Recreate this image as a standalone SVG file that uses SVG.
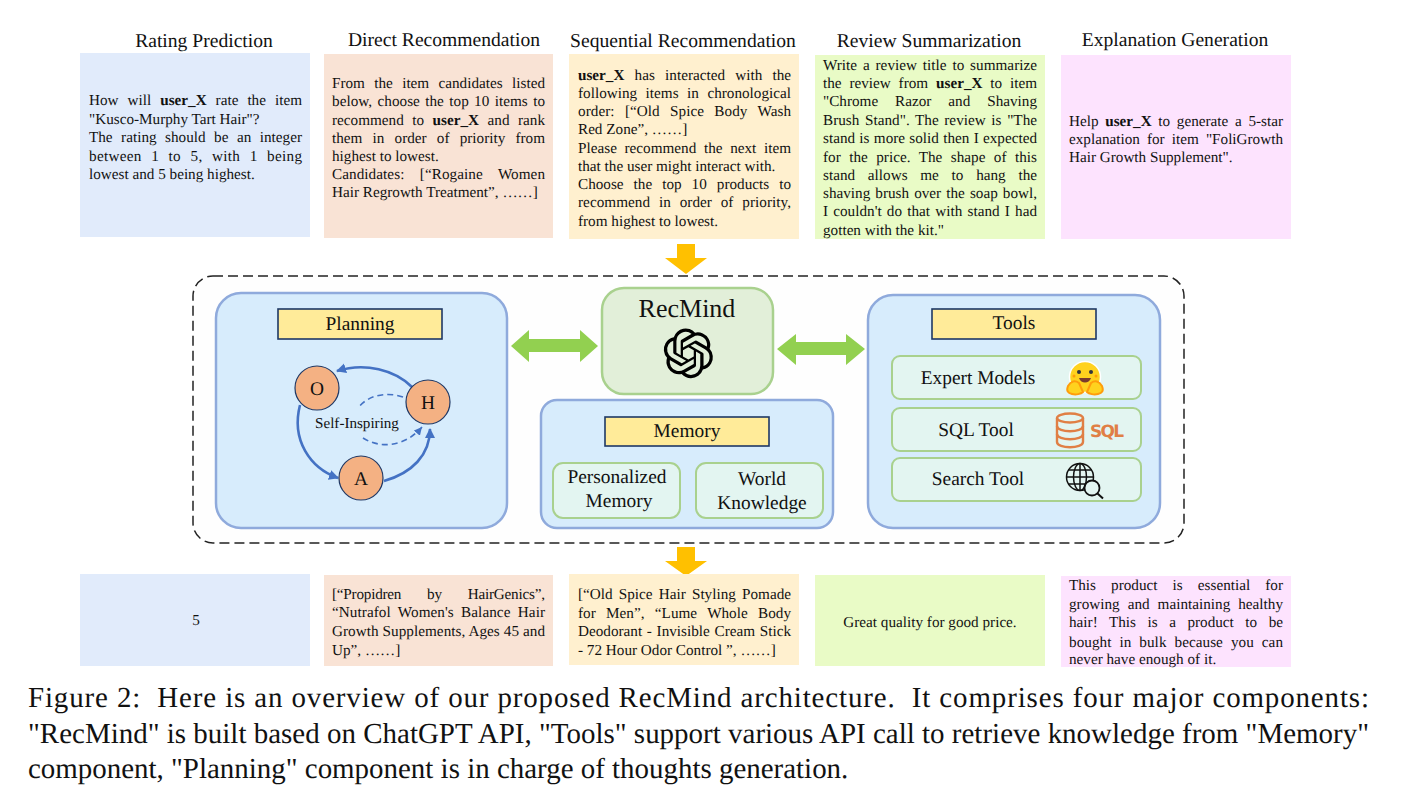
<svg xmlns="http://www.w3.org/2000/svg" width="1401" height="809" viewBox="0 0 1401 809">
<style>
text{font-family:"Liberation Serif","Times New Roman",serif;fill:#111;text-rendering:geometricPrecision}
.t{font-size:15.2px}
.h{font-size:19.6px;text-anchor:middle}
.c{font-size:15.2px;text-anchor:middle}
.m{font-size:19.4px;text-anchor:middle}
.cap{font-size:28.95px;fill:#111}
.b{font-weight:bold}
.panel{fill:#d7ecfc;stroke:#8faadc;stroke-width:2.5}
.label{fill:#ffeb99;stroke:#1f3864;stroke-width:1.6}
.sub{fill:#e3f5f1;stroke:#a9d18e;stroke-width:2}
.node{fill:#f4b183;stroke:#203864;stroke-width:1.2}
.flow{fill:none;stroke:#4472c4;stroke-width:2.6}
.dash{fill:none;stroke:#4472c4;stroke-width:1.6;stroke-dasharray:6 4}
.go{fill:#ffc000}
.dbl{fill:#92d050}
</style>
<defs>
<marker id="ah" markerUnits="userSpaceOnUse" markerWidth="12" markerHeight="12" refX="9" refY="5" orient="auto"><path d="M0 0L10 5L0 10Z" fill="#4472c4"/></marker>
<marker id="ahs" markerUnits="userSpaceOnUse" markerWidth="10" markerHeight="10" refX="8" refY="4" orient="auto"><path d="M0 0L8 4L0 8Z" fill="#4472c4"/></marker>
</defs>
<rect width="1401" height="809" fill="#fff"/>

<g id="prompt-rating">
<text class="h" x="204" y="47">Rating Prediction</text>
<rect x="80" y="53" width="230" height="184" fill="#e1ebfb"/>
<text class="t" x="89" y="105" word-spacing="5.2" textLength="213">How will <tspan class="b">user_X</tspan> rate the item</text>
<text class="t" x="89" y="123.500">"Kusco-Murphy Tart Hair"?</text>
<text class="t" x="89" y="142" word-spacing="4.7" textLength="213">The rating should be an integer</text>
<text class="t" x="89" y="160.500" word-spacing="5.4" textLength="213">between 1 to 5, with 1 being</text>
<text class="t" x="89" y="179">lowest and 5 being highest.</text>
</g>
<g id="prompt-direct">
<text class="h" x="444" y="46">Direct Recommendation</text>
<rect x="324" y="54" width="229" height="184" fill="#f9e3d5"/>
<text class="t" x="332" y="88" word-spacing="5.5" textLength="213">From the item candidates listed</text>
<text class="t" x="332" y="106" word-spacing="1.5" textLength="213">below, choose the top 10 items to</text>
<text class="t" x="332" y="124.500" word-spacing="4.7" textLength="213">recommend to <tspan class="b">user_X</tspan> and rank</text>
<text class="t" x="332" y="142.500" word-spacing="6.4" textLength="213">them in order of priority from</text>
<text class="t" x="332" y="161">highest to lowest.</text>
<text class="t" x="332" y="179" word-spacing="11.5" textLength="213">Candidates: [“Rogaine Women</text>
<text class="t" x="332" y="197">Hair Regrowth Treatment”, ……]</text>
</g>
<g id="prompt-sequential">
<text class="h" x="683" y="47">Sequential Recommendation</text>
<rect x="569" y="54" width="230" height="185" fill="#fff0cf"/>
<text class="t" x="578" y="80" word-spacing="6.4" textLength="213"><tspan class="b">user_X</tspan> has interacted with the</text>
<text class="t" x="578" y="97.500" word-spacing="4.7" textLength="213">following items in chronological</text>
<text class="t" x="578" y="115.500" word-spacing="6.4" textLength="213">order: [“Old Spice Body Wash</text>
<text class="t" x="578" y="134">Red Zone”, ……]</text>
<text class="t" x="578" y="153" word-spacing="3.8" textLength="213">Please recommend the next item</text>
<text class="t" x="578" y="171">that the user might interact with.</text>
<text class="t" x="578" y="188.500" word-spacing="6.2" textLength="213">Choose the top 10 products to</text>
<text class="t" x="578" y="207" word-spacing="5" textLength="213">recommend in order of priority,</text>
<text class="t" x="578" y="226">from highest to lowest.</text>
</g>
<g id="prompt-review">
<text class="h" x="929" y="47">Review Summarization</text>
<rect x="815" y="55" width="230" height="184" fill="#e9fbc6"/>
<text class="t" x="823" y="70" word-spacing="2" textLength="214">Write a review title to summarize</text>
<text class="t" x="823" y="88" word-spacing="4" textLength="214">the review from <tspan class="b">user_X</tspan> to item</text>
<text class="t" x="823" y="106" word-spacing="13.1" textLength="214">"Chrome Razor and Shaving</text>
<text class="t" x="823" y="125" word-spacing="1.8" textLength="214">Brush Stand". The review is "The</text>
<text class="t" x="823" y="143" word-spacing=".5" textLength="214">stand is more solid then I expected</text>
<text class="t" x="823" y="162" word-spacing="4.6" textLength="214">for the price. The shape of this</text>
<text class="t" x="823" y="179.500" word-spacing="8.9" textLength="214">stand allows me to hang the</text>
<text class="t" x="823" y="198" word-spacing="1.3" textLength="214">shaving brush over the soap bowl,</text>
<text class="t" x="823" y="216" word-spacing="1.4" textLength="214">I couldn't do that with stand I had</text>
<text class="t" x="823" y="235">gotten with the kit."</text>
</g>
<g id="prompt-explanation">
<text class="h" x="1175" y="46">Explanation Generation</text>
<rect x="1061" y="55" width="230" height="184" fill="#fde3fe"/>
<text class="t" x="1069" y="126" word-spacing="2.9" textLength="214">Help <tspan class="b">user_X</tspan> to generate a 5-star</text>
<text class="t" x="1069" y="144" word-spacing="3.3" textLength="214">explanation for item "FoliGrowth</text>
<text class="t" x="1069" y="162">Hair Growth Supplement".</text>
</g>

<g id="agent-frame">
<rect x="193" y="276" width="991" height="267" rx="20" fill="#fefefe" stroke="#222" stroke-width="1.5" stroke-dasharray="10 5"/>
</g>

<g id="connectors">
<path class="go" d="M677 244H695V258H707L686 274L665 258H677Z"/>
<path class="go" d="M677 547H695V561H707L686 576L665 561H677Z"/>
<path class="dbl" d="M511 346L529 330V339H580V330L598 346L580 362V352H529V362Z"/>
<path class="dbl" d="M777 349L796 334V342H846V334L865 349L846 365V355H796V365Z"/>
</g>

<g id="planning">
<rect class="panel" x="216" y="293" width="291" height="235" rx="25"/>
<rect class="label" x="278" y="309" width="164" height="30"/>
<text class="m" x="360" y="330">Planning</text>
<g id="cycle">
<path class="flow" marker-end="url(#ah)" d="M412 387C395 370 365 362 337 371"/>
<path class="flow" marker-end="url(#ah)" d="M300 405C291 440 310 468 338 478"/>
<path class="flow" marker-end="url(#ah)" d="M384 481C412 473 430 455 430 429"/>
<path class="dash" d="M403 397C385 391 367 396 358 408"/>
<path class="dash" marker-end="url(#ahs)" d="M363 438C380 449 405 447 422 427"/>
<text x="357" y="428" text-anchor="middle" font-size="15.1">Self-Inspiring</text>
</g>
<g id="node-o"><circle class="node" cx="317" cy="388" r="22"/><text class="m" x="317" y="395">O</text></g>
<g id="node-h"><circle class="node" cx="428" cy="402" r="22"/><text class="m" x="428" y="409">H</text></g>
<g id="node-a"><circle class="node" cx="361" cy="478" r="22"/><text class="m" x="361" y="485">A</text></g>
</g>

<g id="recmind">
<rect x="602" y="288" width="171" height="106" rx="22" fill="#e2efd9" stroke="#a9d18e" stroke-width="2.5"/>
<text x="687" y="317" text-anchor="middle" font-size="26">RecMind</text>
<path transform="translate(663.500 328.500) scale(2.07)" fill="#000" d="M22.2819 9.8211a5.9847 5.9847 0 0 0-.5157-4.9108 6.0462 6.0462 0 0 0-6.5098-2.9A6.0651 6.0651 0 0 0 4.9807 4.1818a5.9847 5.9847 0 0 0-3.9977 2.9 6.0462 6.0462 0 0 0 .7427 7.0966 5.98 5.98 0 0 0 .511 4.9107 6.051 6.051 0 0 0 6.5146 2.9001A5.9847 5.9847 0 0 0 13.2599 24a6.0557 6.0557 0 0 0 5.7718-4.2058 5.9894 5.9894 0 0 0 3.9977-2.9001 6.0557 6.0557 0 0 0-.7475-7.0729zm-9.022 12.6081a4.4755 4.4755 0 0 1-2.8764-1.0408l.1419-.0804 4.7783-2.7582a.7948.7948 0 0 0 .3927-.6813v-6.7369l2.02 1.1686a.071.071 0 0 1 .038.052v5.5826a4.504 4.504 0 0 1-4.4945 4.4944zm-9.6607-4.1254a4.4708 4.4708 0 0 1-.5346-3.0137l.142.0852 4.783 2.7582a.7712.7712 0 0 0 .7806 0l5.8428-3.3685v2.3324a.0804.0804 0 0 1-.0332.0615L9.74 19.9502a4.4992 4.4992 0 0 1-6.1408-1.6464zM2.3408 7.8956a4.485 4.485 0 0 1 2.3655-1.9728V11.6a.7664.7664 0 0 0 .3879.6765l5.8144 3.3543-2.0201 1.1685a.0757.0757 0 0 1-.071 0l-4.8303-2.7865A4.504 4.504 0 0 1 2.3408 7.872zm16.5963 3.8558L13.1038 8.364 15.1192 7.2a.0757.0757 0 0 1 .071 0l4.8303 2.7913a4.4944 4.4944 0 0 1-.6765 8.1042v-5.6772a.79.79 0 0 0-.407-.667zm2.0107-3.0231l-.142-.0852-4.7735-2.7818a.7759.7759 0 0 0-.7854 0L9.409 9.2297V6.8974a.0662.0662 0 0 1 .0284-.0615l4.8303-2.7866a4.4992 4.4992 0 0 1 6.6802 4.66zM8.3065 12.863l-2.02-1.1638a.0804.0804 0 0 1-.038-.0567V6.0742a4.4992 4.4992 0 0 1 7.3757-3.4537l-.142.0805L8.704 5.459a.7948.7948 0 0 0-.3927.6813zm1.0976-2.3654l2.602-1.4998 2.6069 1.4998v2.9994l-2.5974 1.4997-2.6067-1.4997Z"/>
</g>

<g id="memory">
<rect class="panel" x="541" y="400" width="292" height="128" rx="16"/>
<rect class="label" x="605" y="417" width="164" height="29"/>
<text class="m" x="687" y="437">Memory</text>
<g id="personalized-memory">
<rect class="sub" x="553" y="463" width="127" height="55" rx="10"/>
<text class="m" x="617" y="483">Personalized</text>
<text class="m" x="619" y="507">Memory</text>
</g>
<g id="world-knowledge">
<rect class="sub" x="696" y="463" width="127" height="55" rx="10"/>
<text class="m" x="762" y="485">World</text>
<text class="m" x="762" y="509">Knowledge</text>
</g>
</g>

<g id="tools">
<rect class="panel" x="868" y="295" width="292" height="233" rx="25"/>
<rect class="label" x="932" y="309" width="164" height="30"/>
<text class="m" x="1014" y="329">Tools</text>
<g id="expert-models">
<rect class="sub" x="892" y="356" width="249" height="43" rx="8"/>
<text class="m" x="978" y="384">Expert Models</text>
<g>
<circle cx="1085" cy="377" r="15.500" fill="#ffd21e" stroke="#fff" stroke-width="1.500"/>
<path d="M1068 386C1066 391 1068 393 1072 394C1076 395 1081 394 1083 392L1079 383C1075 380 1071 381 1068 386Z" fill="#ffd21e" stroke="#ff9d0b" stroke-width="2"/>
<path d="M1102 386C1104 391 1102 393 1098 394C1094 395 1089 394 1087 392L1091 383C1095 380 1099 381 1102 386Z" fill="#ffd21e" stroke="#ff9d0b" stroke-width="2"/>
<circle cx="1079" cy="372" r="2" fill="#32343d"/><circle cx="1091" cy="372" r="2" fill="#32343d"/>
<path d="M1079 378C1081 384 1089 384 1091 378Z" fill="#7a3b2e"/>
<circle cx="1074" cy="376" r="1.500" fill="#ff9d0b"/><circle cx="1096" cy="376" r="1.500" fill="#ff9d0b"/>
</g>
</g>
<g id="sql-tool">
<rect class="sub" x="892" y="408" width="249" height="43" rx="8"/>
<text class="m" x="976" y="436">SQL Tool</text>
<g fill="none" stroke="#e07f45" stroke-width="2.400">
<ellipse cx="1070" cy="418" rx="13" ry="4.500"/>
<path d="M1057 418V442C1057 449 1083 449 1083 442V418"/>
<path d="M1057 426C1057 433 1083 433 1083 426"/>
<path d="M1057 434C1057 441 1083 441 1083 434"/>
</g>
<text x="1090" y="437" font-size="17" font-weight="bold" style="font-family:'DejaVu Sans',sans-serif;fill:#e07f45" textLength="34">SQL</text>
</g>
<g id="search-tool">
<rect class="sub" x="892" y="458" width="249" height="43" rx="8"/>
<text class="m" x="978" y="485">Search Tool</text>
<g fill="none" stroke="#111" stroke-width="1.500">
<circle cx="1080" cy="477" r="13.500"/>
<ellipse cx="1080" cy="477" rx="6.500" ry="13.500"/>
<path d="M1080 463.500V490.500M1066.500 477H1093.500M1068.500 470H1091.500M1068.500 484H1091.500"/>
<circle cx="1092" cy="488" r="7.500" fill="#e3f5f1" stroke-width="1.800"/>
<path d="M1097.500 493.500L1103 498.500" stroke-width="2"/>
</g>
</g>
</g>

<g id="output-rating">
<rect x="80" y="574" width="230" height="92" fill="#e1ebfb"/>
<text class="c" x="196" y="625">5</text>
</g>
<g id="output-direct">
<rect x="324" y="575" width="229" height="91" fill="#f9e3d5"/>
<text class="t" x="332" y="599" word-spacing="22.3" textLength="213">[“Propidren by HairGenics”,</text>
<text class="t" x="332" y="617" word-spacing="3.5" textLength="213">“Nutrafol Women's Balance Hair</text>
<text class="t" x="332" y="635.500" word-spacing=".15" textLength="213">Growth Supplements, Ages 45 and</text>
<text class="t" x="332" y="655">Up”, ……]</text>
</g>
<g id="output-sequential">
<rect x="569" y="574" width="230" height="91" fill="#fff0cf"/>
<text class="t" x="578" y="599" word-spacing="2.4" textLength="213">[“Old Spice Hair Styling Pomade</text>
<text class="t" x="578" y="617.500" word-spacing="6.5" textLength="213">for Men”, “Lume Whole Body</text>
<text class="t" x="578" y="635.500" word-spacing=".9" textLength="213">Deodorant - Invisible Cream Stick</text>
<text class="t" x="578" y="654.500">- 72 Hour Odor Control ”, ……]</text>
</g>
<g id="output-review">
<rect x="815" y="575" width="230" height="91" fill="#e9fbc6"/>
<text class="c" x="930" y="627">Great quality for good price.</text>
</g>
<g id="output-explanation">
<rect x="1061" y="576" width="230" height="91" fill="#fde3fe"/>
<text class="t" x="1069" y="590" word-spacing="11.3" textLength="214">This product is essential for</text>
<text class="t" x="1069" y="609" word-spacing="4.2" textLength="214">growing and maintaining healthy</text>
<text class="t" x="1069" y="627" word-spacing="7.7" textLength="214">hair! This is a product to be</text>
<text class="t" x="1069" y="646.500" word-spacing="4.2" textLength="214">bought in bulk because you can</text>
<text class="t" x="1069" y="664">never have enough of it.</text>
</g>

<g id="caption">
<text class="cap" x="28" y="707" textLength="1341">Figure 2:&#160; Here is an overview of our proposed RecMind architecture.&#160; It comprises four major components:</text>
<text class="cap" x="28" y="743" textLength="1341">"RecMind" is built based on ChatGPT API, "Tools" support various API call to retrieve knowledge from "Memory"</text>
<text class="cap" x="28" y="778">component, "Planning" component is in charge of thoughts generation.</text>
</g>
</svg>
